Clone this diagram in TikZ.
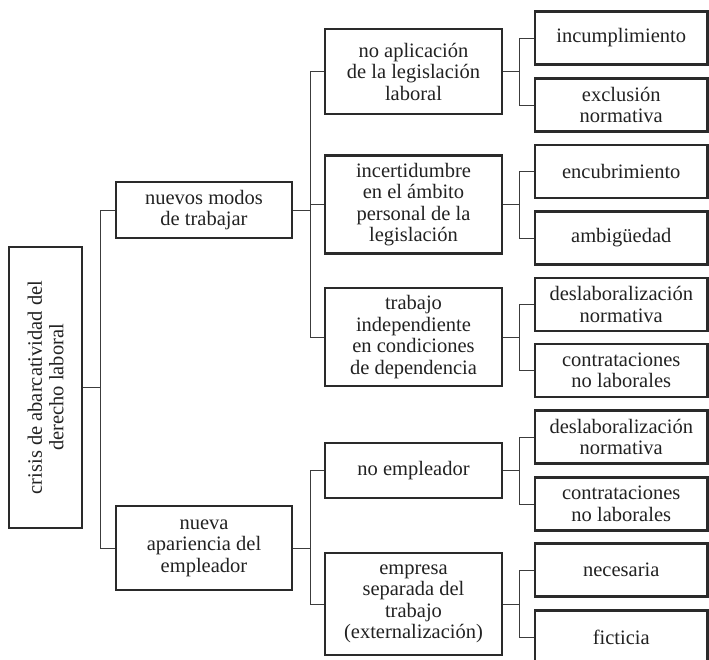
\documentclass[tikz,border=0pt]{standalone}
\usepackage{fontspec}
\setmainfont{Liberation Serif}
\definecolor{boxc}{HTML}{2A2A2A}
\definecolor{linec}{HTML}{3C3C3C}
\definecolor{txt}{HTML}{222222}
\begin{document}
\begin{tikzpicture}[x=1pt,y=-1pt]
\tikzset{
  box/.style={draw=boxc, line width=2.7pt, fill=white, inner sep=2pt, align=center,
    text=txt, font=\fontsize{20.5}{21.5}\selectfont},
  rootbox/.style={box, rotate=90, minimum width=281pt, minimum height=73pt},
  lone/.style={box, minimum width=176pt},
  ltwo/.style={box, minimum width=177pt},
  lthree/.style={box, minimum width=172.5pt, minimum height=53pt},
  conn/.style={draw=linec, line width=0.9pt}
}
\useasboundingbox (0,0) rectangle (709,659);
% root
\node[rootbox] (root) at (45.5,387.5) {crisis de abarcatividad del\\derecho laboral};
% level 1
\node[lone, minimum height=56pt] (nm) at (204,210) {nuevos modos\\de trabajar};
\node[lone, minimum height=84pt] (na) at (204,548) {nueva\\apariencia del\\empleador};
% level 2
\node[ltwo, minimum height=85pt] (ap) at (413.5,71.5) {no aplicación\\de la legislación\\laboral};
\node[ltwo, minimum height=98pt] (in) at (413.5,204.5) {incertidumbre\\en el ámbito\\personal de la\\legislación};
\node[ltwo, minimum height=98pt] (tr) at (413.5,337) {trabajo\\independiente\\en condiciones\\de dependencia};
\node[ltwo, minimum height=55pt] (ne) at (413.5,470.5) {no empleador};
\node[ltwo, minimum height=102pt] (em) at (413.5,604) {empresa\\separada del\\trabajo\\(externalización)};
% level 3
\node[lthree] (c1) at (621.25,38) {incumplimiento};
\node[lthree] (c2) at (621.25,105) {exclusión\\normativa};
\node[lthree] (c3) at (621.25,171.5) {encubrimiento};
\node[lthree] (c4) at (621.25,238) {ambigüedad};
\node[lthree] (c5) at (621.25,304.5) {deslaboralización\\normativa};
\node[lthree] (c6) at (621.25,370.5) {contrataciones\\no laborales};
\node[lthree] (c7) at (621.25,437) {deslaboralización\\normativa};
\node[lthree] (c8) at (621.25,504) {contrataciones\\no laborales};
\node[lthree] (c9) at (621.25,570) {necesaria};
\node[lthree] (c10) at (621.25,637) {ficticia};
% connectors
\foreach \c in {nm,na} \draw[conn] (root.south) -- ++(17,0) |- (\c.west);
\foreach \c in {ap,in,tr} \draw[conn] (nm.east) -- ++(17,0) |- (\c.west);
\foreach \c in {ne,em} \draw[conn] (na.east) -- ++(17,0) |- (\c.west);
\foreach \c in {c1,c2} \draw[conn] (ap.east) -- ++(16.5,0) |- (\c.west);
\foreach \c in {c3,c4} \draw[conn] (in.east) -- ++(16.5,0) |- (\c.west);
\foreach \c in {c5,c6} \draw[conn] (tr.east) -- ++(16.5,0) |- (\c.west);
\foreach \c in {c7,c8} \draw[conn] (ne.east) -- ++(16.5,0) |- (\c.west);
\foreach \c in {c9,c10} \draw[conn] (em.east) -- ++(16.5,0) |- (\c.west);
\end{tikzpicture}
\end{document}
